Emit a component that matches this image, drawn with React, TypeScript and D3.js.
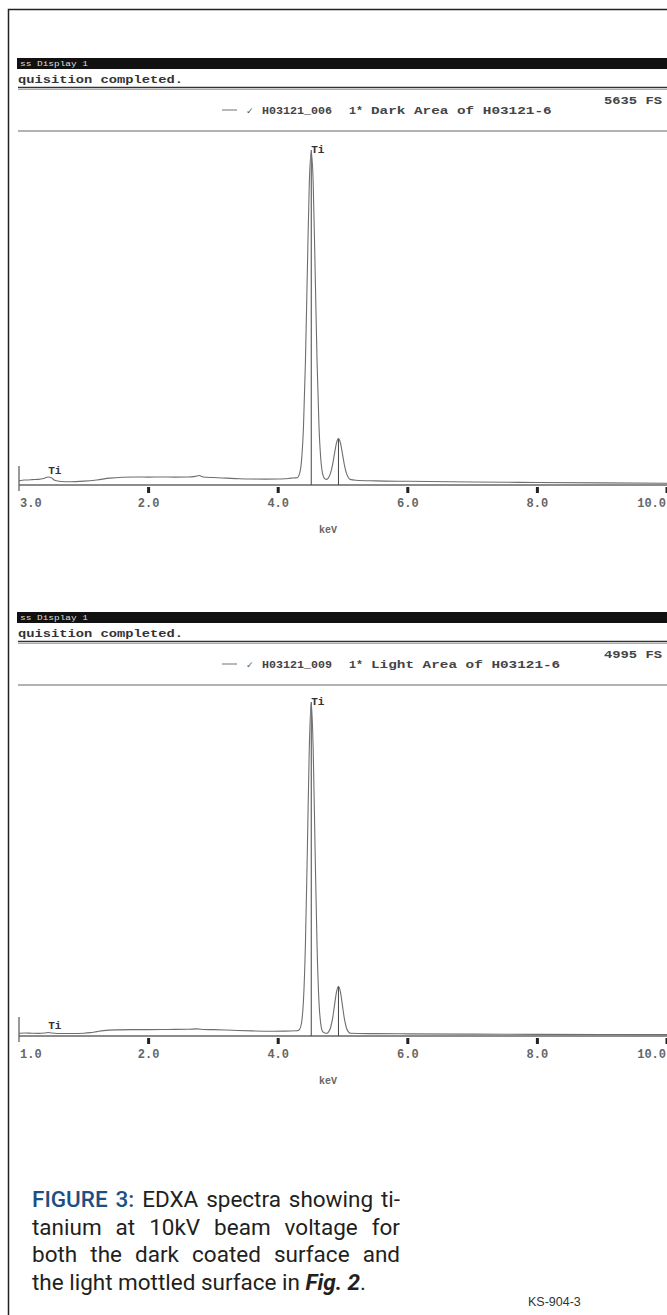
import React, { useEffect, useRef } from "react";
import * as d3 from "d3";

const WIDTH = 667;
const HEIGHT = 1315;

const energyTicks = [0, 2, 4, 6, 8, 10];
const darkTickLabels = ["3.0", "2.0", "4.0", "6.0", "8.0", "10.0"];
const lightTickLabels = ["1.0", "2.0", "4.0", "6.0", "8.0", "10.0"];

const darkFullScale = 5635;
const lightFullScale = 4995;

// [keV, counts]
const darkSpectrum: [number, number][] = [
  [0, 70], [0.05, 80], [0.1, 84], [0.2, 90], [0.3, 95], [0.38, 110], [0.45, 135], [0.5, 120],
  [0.55, 80], [0.65, 60], [0.8, 55], [1.0, 65], [1.2, 85], [1.4, 115], [1.6, 130], [1.8, 135],
  [2.0, 132], [2.2, 135], [2.4, 133], [2.6, 135], [2.72, 145], [2.78, 160], [2.84, 135], [3.0, 125],
  [3.2, 115], [3.4, 105], [3.6, 100], [3.8, 98], [4.0, 100], [4.1, 105], [4.2, 115], [4.27, 120],
  [4.3, 128], [4.33, 190], [4.36, 410], [4.39, 970], [4.42, 2060], [4.45, 3610], [4.48, 5080],
  [4.51, 5600], [4.54, 5080], [4.57, 3610], [4.6, 2060], [4.63, 970], [4.66, 400], [4.69, 170],
  [4.72, 105], [4.75, 95], [4.78, 129], [4.81, 207], [4.84, 348], [4.87, 537], [4.9, 710],
  [4.93, 780], [4.96, 710], [4.99, 537], [5.02, 348], [5.05, 207], [5.08, 129], [5.11, 95],
  [5.2, 80], [5.5, 70], [6, 62], [7, 50], [8, 42], [9, 35], [10, 30],
];

// [keV, counts]
const lightSpectrum: [number, number][] = [
  [0, 40], [0.1, 45], [0.2, 42], [0.3, 40], [0.4, 45], [0.45, 52], [0.5, 45], [0.6, 38],
  [0.8, 38], [1.0, 42], [1.1, 50], [1.2, 65], [1.3, 80], [1.5, 92], [1.8, 95], [2.0, 96],
  [2.3, 98], [2.6, 100], [2.75, 106], [2.85, 98], [3.0, 95], [3.3, 85], [3.6, 76], [3.9, 72],
  [4.1, 73], [4.2, 75], [4.27, 78], [4.3, 80], [4.33, 100], [4.36, 195], [4.39, 530],
  [4.42, 1365], [4.45, 2790], [4.48, 4315], [4.51, 4990], [4.54, 4280], [4.57, 2750],
  [4.6, 1330], [4.63, 495], [4.66, 160], [4.69, 60], [4.72, 45], [4.75, 42], [4.78, 66],
  [4.81, 131], [4.84, 266], [4.87, 466], [4.9, 661], [4.93, 745], [4.96, 661], [4.99, 466],
  [5.02, 266], [5.05, 131], [5.08, 66], [5.12, 40], [5.5, 35], [6, 32], [7, 28], [8, 25],
  [9, 22], [10, 20],
];

const darkMarkers = [
  { energy: 0.45, counts: 235, label: "Ti", line: false },
  { energy: 4.51, counts: 5635, label: "Ti", line: true },
  { energy: 4.93, counts: 780, label: "", line: true },
];
const lightMarkers = [
  { energy: 0.45, counts: 150, label: "Ti", line: false },
  { energy: 4.51, counts: 4995, label: "Ti", line: true },
  { energy: 4.93, counts: 745, label: "", line: true },
];

const captionLines = [
  "FIGURE 3: EDXA spectra showing ti-",
  "tanium at 10kV beam voltage for",
  "both the dark coated surface and",
  "the light mottled surface in Fig. 2.",
];

type Marker = { energy: number; counts: number; label: string; line: boolean };

type Panel = {
  barY: number;
  baseY: number;
  topY: number;
  fullScale: number;
  spectrum: [number, number][];
  tickLabels: string[];
  markers: Marker[];
  sample: string;
  area: string;
};

const panels: Panel[] = [
  {
    barY: 58, baseY: 485, topY: 150, fullScale: darkFullScale, spectrum: darkSpectrum,
    tickLabels: darkTickLabels, markers: darkMarkers, sample: "H03121_006", area: "Dark Area of H03121-6",
  },
  {
    barY: 612, baseY: 1036, topY: 702, fullScale: lightFullScale, spectrum: lightSpectrum,
    tickLabels: lightTickLabels, markers: lightMarkers, sample: "H03121_009", area: "Light Area of H03121-6",
  },
];

const MONO = "'Liberation Mono', 'DejaVu Sans Mono', monospace";

export default function App() {
  const svgRef = useRef<SVGSVGElement>(null);

  useEffect(() => {
    const svg = d3.select(svgRef.current);
    svg.selectAll("*").remove();

    svg.append("rect").attr("width", WIDTH).attr("height", HEIGHT).attr("fill", "#fff");

    // outer frame
    svg.append("path")
      .attr("d", `M8.5,${HEIGHT} L8.5,9.5 L${WIDTH},9.5`)
      .attr("fill", "none")
      .attr("stroke", "#222")
      .attr("stroke-width", 1.5);

    const x = d3.scaleLinear().domain([0, 10]).range([19, 667]);

    panels.forEach((p) => {
      const g = svg.append("g");
      const y = d3.scaleLinear().domain([0, p.fullScale]).range([p.baseY, p.topY]);
      const b = p.barY;

      // window header
      g.append("rect").attr("x", 17).attr("y", b).attr("width", WIDTH - 17).attr("height", 11).attr("fill", "#111");
      g.append("text")
        .attr("x", 20).attr("y", b + 8)
        .attr("font-family", MONO).attr("font-size", 8)
        .attr("fill", "#ddd")
        .attr("textLength", 68).attr("lengthAdjust", "spacingAndGlyphs")
        .text("ss Display 1");
      g.append("text")
        .attr("x", 18).attr("y", b + 25)
        .attr("font-family", MONO).attr("font-size", 11.5).attr("font-weight", "bold")
        .attr("fill", "#333")
        .attr("textLength", 165).attr("lengthAdjust", "spacingAndGlyphs")
        .text("quisition completed.");
      g.append("line").attr("x1", 18).attr("x2", WIDTH).attr("y1", b + 29.5).attr("y2", b + 29.5)
        .attr("stroke", "#333").attr("stroke-width", 1.5);
      g.append("line").attr("x1", 18).attr("x2", WIDTH).attr("y1", b + 31.5).attr("y2", b + 31.5)
        .attr("stroke", "#aaa").attr("stroke-width", 1);

      g.append("text")
        .attr("x", 604).attr("y", b + 46)
        .attr("font-family", MONO).attr("font-size", 11).attr("font-weight", "bold")
        .attr("fill", "#444")
        .attr("textLength", 58).attr("lengthAdjust", "spacingAndGlyphs")
        .text(`${p.fullScale} FS`);

      // legend row
      const ly = b + 56;
      g.append("line").attr("x1", 222).attr("x2", 237).attr("y1", ly - 4).attr("y2", ly - 4)
        .attr("stroke", "#888").attr("stroke-width", 1.2);
      g.append("text").attr("x", 246).attr("y", ly)
        .attr("font-family", "'DejaVu Sans', sans-serif").attr("font-size", 9).attr("fill", "#555")
        .text("✓");
      g.append("text").attr("x", 262).attr("y", ly)
        .attr("font-family", MONO).attr("font-size", 11).attr("font-weight", "bold").attr("fill", "#444")
        .attr("textLength", 70).attr("lengthAdjust", "spacingAndGlyphs")
        .text(p.sample);
      g.append("text").attr("x", 349).attr("y", ly)
        .attr("font-family", MONO).attr("font-size", 11).attr("font-weight", "bold").attr("fill", "#444")
        .attr("textLength", 14).attr("lengthAdjust", "spacingAndGlyphs")
        .text("1*");
      g.append("text").attr("x", 371).attr("y", ly)
        .attr("font-family", MONO).attr("font-size", 11).attr("font-weight", "bold").attr("fill", "#444")
        .attr("textLength", p.area.length * 8.6).attr("lengthAdjust", "spacingAndGlyphs")
        .text(p.area);

      g.append("line").attr("x1", 18).attr("x2", WIDTH).attr("y1", b + 73).attr("y2", b + 73)
        .attr("stroke", "#999").attr("stroke-width", 1.5);

      // axis
      g.append("line").attr("x1", x(0)).attr("x2", WIDTH).attr("y1", p.baseY).attr("y2", p.baseY)
        .attr("stroke", "#666").attr("stroke-width", 1.5);
      g.append("line").attr("x1", x(0)).attr("x2", x(0)).attr("y1", p.baseY - 19).attr("y2", p.baseY + 6)
        .attr("stroke", "#555").attr("stroke-width", 1.2);

      g.selectAll(".tick")
        .data(energyTicks.slice(1))
        .enter()
        .append("rect")
        .attr("x", (d) => x(d) - 1.5)
        .attr("y", p.baseY + 2)
        .attr("width", 3)
        .attr("height", 6)
        .attr("fill", "#222");

      const lastTick = energyTicks.length - 1;
      g.selectAll(".ticklabel")
        .data(energyTicks)
        .enter()
        .append("text")
        .attr("x", (d, i) => (i === 0 ? x(d) + 1 : i === lastTick ? WIDTH - 1 : x(d)))
        .attr("y", p.baseY + 22)
        .attr("text-anchor", (d, i) => (i === 0 ? "start" : i === lastTick ? "end" : "middle"))
        .attr("font-family", MONO)
        .attr("font-size", 12)
        .attr("font-weight", "bold")
        .attr("fill", "#666")
        .text((d, i) => p.tickLabels[i]);

      g.append("text")
        .attr("x", 328).attr("y", p.baseY + 48)
        .attr("text-anchor", "middle")
        .attr("font-family", MONO).attr("font-size", 10).attr("font-weight", "bold")
        .attr("fill", "#666")
        .text("keV");

      // element markers
      p.markers.forEach((m) => {
        if (m.line) {
          g.append("line")
            .attr("x1", x(m.energy)).attr("x2", x(m.energy))
            .attr("y1", p.baseY).attr("y2", y(m.counts))
            .attr("stroke", "#444").attr("stroke-width", 1);
        }
        if (m.label) {
          g.append("text")
            .attr("x", x(m.energy))
            .attr("y", y(m.counts) + 3)
            .attr("font-family", MONO).attr("font-size", 11).attr("font-weight", "bold")
            .attr("fill", "#333")
            .text(m.label);
        }
      });

      // spectrum trace
      const line = d3
        .line<[number, number]>()
        .x((d) => x(d[0]))
        .y((d) => y(d[1]))
        .curve(d3.curveMonotoneX);

      g.append("path")
        .datum(p.spectrum)
        .attr("d", line)
        .attr("fill", "none")
        .attr("stroke", "#6e6e6e")
        .attr("stroke-width", 1.1);
    });

    // caption, justified like the printed column
    const cap = svg.append("g")
      .attr("font-family", "Roboto, 'Open Sans', sans-serif")
      .attr("font-size", 22.5);
    const colLeft = 32;
    const colWidth = 368;
    captionLines.forEach((text, i) => {
      const words = text.split(" ");
      const yy = 1207 + i * 27.5;
      const nodes = words.map((w) => {
        const t = cap.append("text").attr("y", yy).attr("fill", "#231f20");
        if (i === 0 && (w === "FIGURE" || w === "3:")) {
          t.attr("fill", "#1d4f80").attr("font-weight", 500).text(w);
        } else if (w === "Fig.") {
          t.attr("font-weight", "bold").attr("font-style", "italic").text(w);
        } else if (w === "2.") {
          t.append("tspan").attr("font-weight", "bold").attr("font-style", "italic").text("2");
          t.append("tspan").text(".");
        } else {
          t.text(w);
        }
        return t;
      });
      const widths = nodes.map((n) => (n.node() as SVGTextElement).getComputedTextLength());
      const total = d3.sum(widths);
      const last = i === captionLines.length - 1;
      const gap = last ? 5.5 : (colWidth - total) / (words.length - 1);
      let cx = colLeft;
      nodes.forEach((n, k) => {
        n.attr("x", cx);
        cx += widths[k] + gap;
      });
    });

    svg.append("text")
      .attr("x", 528).attr("y", 1306)
      .attr("font-family", "'Liberation Sans', Arial, sans-serif")
      .attr("font-size", 12.5)
      .attr("fill", "#333")
      .text("KS-904-3");
  }, []);

  return (
    <div style={{ position: "absolute", left: 0, top: 0 }}>
      <svg ref={svgRef} width={WIDTH} height={HEIGHT} style={{ display: "block" }} />
    </div>
  );
}
